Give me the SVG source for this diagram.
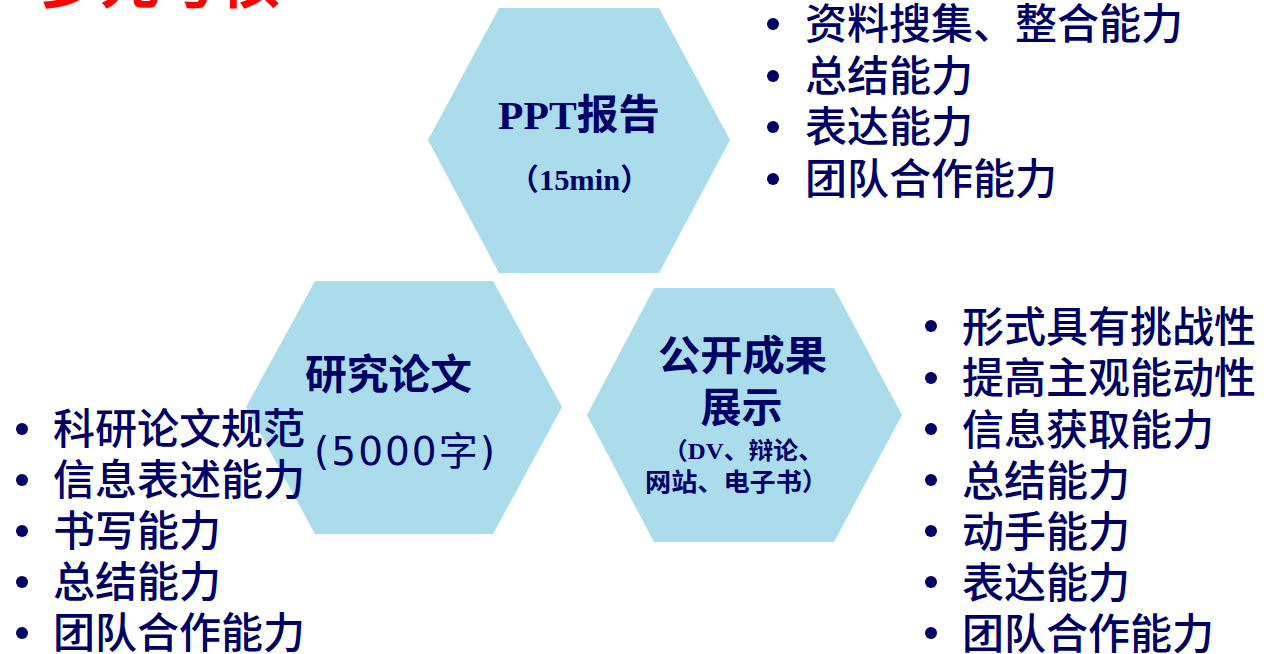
<svg xmlns="http://www.w3.org/2000/svg" width="1271" height="654" viewBox="0 0 1271 654">
<style>
.hex{fill:#aadcec;stroke:none}
.t{fill:#000066;font-family:"Liberation Serif","Noto Sans CJK SC",serif;font-weight:bold}
.ts{fill:#000066;font-family:"DejaVu Sans","Noto Sans CJK SC",sans-serif}
.li{fill:#000066;font-family:"Noto Sans CJK SC",sans-serif;font-size:42px;font-weight:500}
.b{fill:#000066}
.title{fill:#ff0000;font-family:"Noto Sans CJK SC",sans-serif;font-weight:bold;font-size:60px}
</style>
<rect width="1271" height="654" fill="#ffffff"/>
<text class="title" x="40" y="3">多元考核</text>
<g id="node-ppt">
<polygon class="hex" points="499,8 659,8 730,140 659,273 499,273 428,140"/>
<text class="t" x="579" y="129" font-size="41" text-anchor="middle" textLength="162" lengthAdjust="spacingAndGlyphs">PPT报告</text>
<text class="t" x="579.5" y="190" font-size="30" text-anchor="middle" textLength="142" lengthAdjust="spacingAndGlyphs">（15min）</text>
</g>
<g id="node-paper">
<polygon class="hex" points="315,281 493,281 562,407 493,534 315,534 246,407"/>
<text class="t" x="388.5" y="389" font-size="41" text-anchor="middle" textLength="167" lengthAdjust="spacingAndGlyphs">研究论文</text>
<text class="ts" x="314" y="465" font-size="39" textLength="181" lengthAdjust="spacing">(5000字)</text>
</g>
<g id="node-show">
<polygon class="hex" points="654,288 834,288 902,415 834,542 654,542 587,415"/>
<text class="t" x="742.5" y="370" font-size="41" text-anchor="middle" textLength="169" lengthAdjust="spacingAndGlyphs">公开成果</text>
<text class="t" x="741.5" y="422" font-size="41" text-anchor="middle">展示</text>
<text class="t" x="743" y="459" font-size="24" text-anchor="middle" textLength="160" lengthAdjust="spacingAndGlyphs">（DV、辩论、</text>
<text class="t" x="736.5" y="491" font-size="25" text-anchor="middle" textLength="183" lengthAdjust="spacingAndGlyphs">网站、电子书）</text>
</g>
<g id="list-ppt">
<circle class="b" cx="773" cy="24" r="6"/>
<circle class="b" cx="773" cy="76" r="6"/>
<circle class="b" cx="773" cy="127" r="6"/>
<circle class="b" cx="773" cy="179" r="6"/>
<text class="li" x="805" y="39">资料搜集、整合能力</text>
<text class="li" x="805" y="91">总结能力</text>
<text class="li" x="805" y="142">表达能力</text>
<text class="li" x="805" y="194">团队合作能力</text>
</g>
<g id="list-paper">
<circle class="b" cx="22" cy="429" r="6"/>
<circle class="b" cx="22" cy="480" r="6"/>
<circle class="b" cx="22" cy="531" r="6"/>
<circle class="b" cx="22" cy="582" r="6"/>
<circle class="b" cx="22" cy="633" r="6"/>
<text class="li" x="53" y="444">科研论文规范</text>
<text class="li" x="53" y="495">信息表述能力</text>
<text class="li" x="53" y="546">书写能力</text>
<text class="li" x="53" y="597">总结能力</text>
<text class="li" x="53" y="648">团队合作能力</text>
</g>
<g id="list-show">
<circle class="b" cx="931" cy="326" r="6"/>
<circle class="b" cx="931" cy="378" r="6"/>
<circle class="b" cx="931" cy="429" r="6"/>
<circle class="b" cx="931" cy="480" r="6"/>
<circle class="b" cx="931" cy="531" r="6"/>
<circle class="b" cx="931" cy="582" r="6"/>
<circle class="b" cx="931" cy="633" r="6"/>
<text class="li" x="962" y="342">形式具有挑战性</text>
<text class="li" x="962" y="393">提高主观能动性</text>
<text class="li" x="962" y="445">信息获取能力</text>
<text class="li" x="962" y="496">总结能力</text>
<text class="li" x="962" y="547">动手能力</text>
<text class="li" x="962" y="598">表达能力</text>
<text class="li" x="962" y="649">团队合作能力</text>
</g>
<g id="connectors"></g>
</svg>
